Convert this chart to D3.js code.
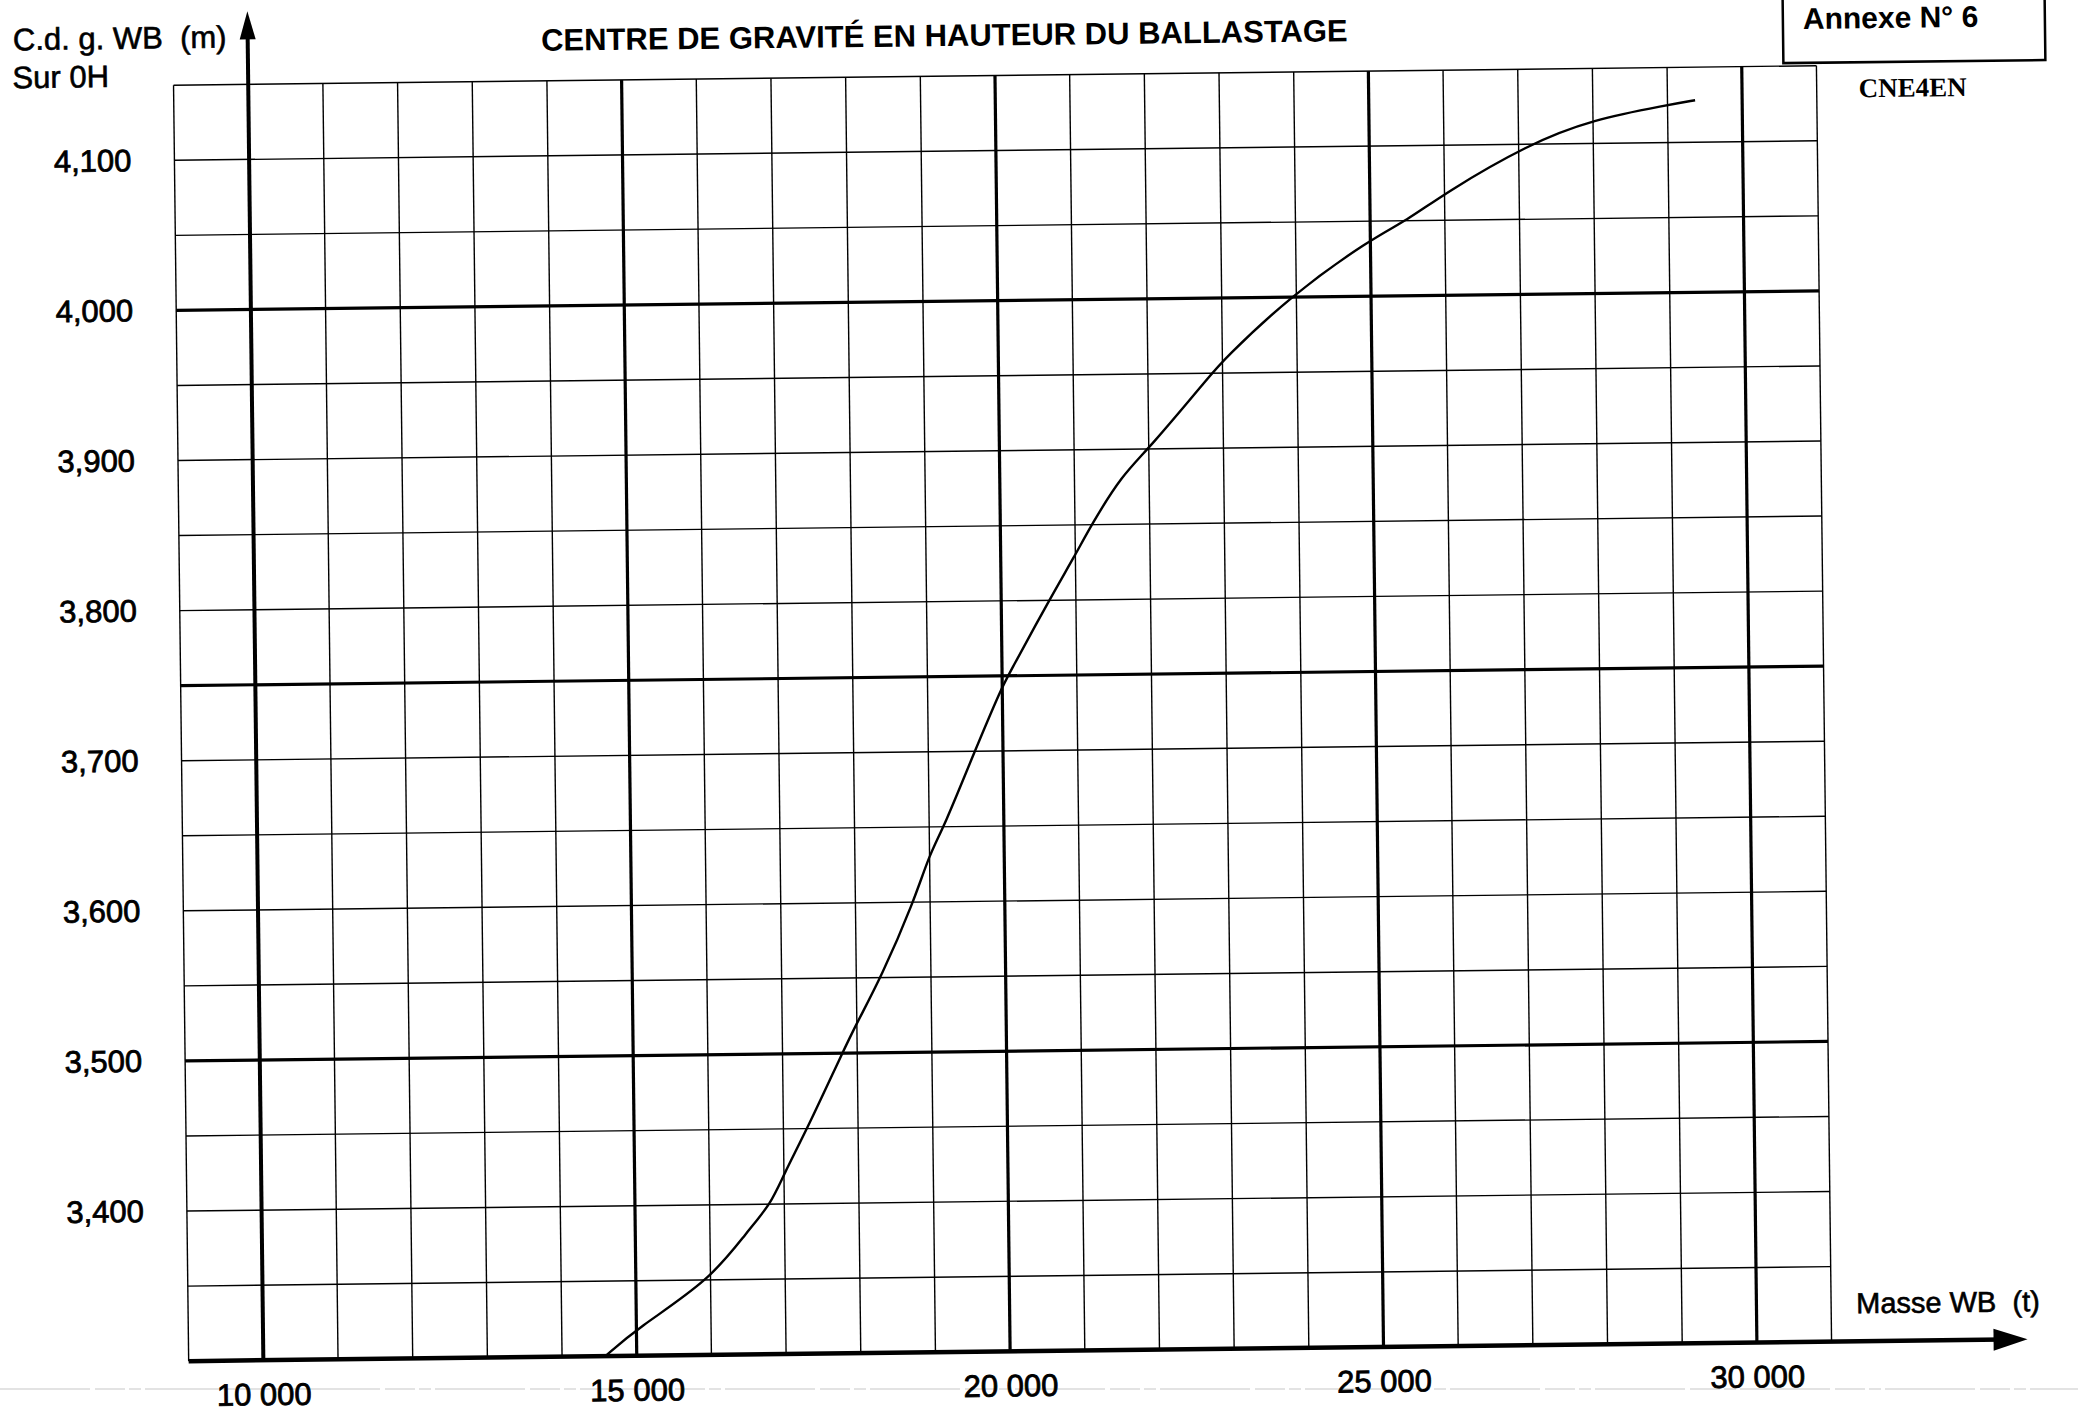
<!DOCTYPE html>
<html>
<head>
<meta charset="utf-8">
<script src="https://cdn.jsdelivr.net/npm/d3@7"></script>
<style>
  html, body { margin: 0; padding: 0; background: #fff; }
  svg { display: block; }
  text { font-family: "Liberation Sans", Arial, sans-serif; fill: #000; }
</style>
</head>
<body>
<div id="chart"></div>
<script>
// Masse WB (t) / C.d.g. WB sur 0H (m)
const masseWB = [14580, 15000, 16000, 16500, 16820, 17000, 17320, 17800, 18000, 18330, 18780, 19000, 19200, 19620, 20000, 20080, 20640, 21000, 21220, 21640, 22000, 22860, 23000, 23900, 25000, 25490, 26000, 27130, 28000, 29000, 29370];
const cdgWB = [3.300, 3.318, 3.350, 3.382, 3.400, 3.420, 3.450, 3.500, 3.520, 3.550, 3.600, 3.632, 3.650, 3.700, 3.743, 3.750, 3.800, 3.830, 3.850, 3.883, 3.900, 3.950, 3.958, 4.000, 4.038, 4.050, 4.068, 4.100, 4.116, 4.125, 4.128];

const xTicks = [10000, 15000, 20000, 25000, 30000];
const yTicks = [3.4, 3.5, 3.6, 3.7, 3.8, 3.9, 4.0, 4.1];

const W = 2078, H = 1418;

const fr = d3.formatLocale({ decimal: ",", thousands: " ", grouping: [3], currency: ["", ""] });

const svg = d3.select("#chart").append("svg")
    .attr("width", W)
    .attr("height", H);

svg.append("rect").attr("width", W).attr("height", H).attr("fill", "#fff");

// faint fold line of the scan
svg.append("line")
    .attr("x1", 0).attr("x2", W)
    .attr("y1", 1389).attr("y2", 1389)
    .attr("stroke", "#c8c8c8")
    .attr("stroke-width", 1.2)
    .attr("stroke-dasharray", "90 5 30 4 12 4");

// the sheet is scanned slightly tilted
const g = svg.append("g")
    .attr("transform", "rotate(-0.68, 1039, 709)");

const x = d3.scaleLinear().domain([9000, 31000]).range([181, 1824]);
const y = d3.scaleLinear().domain([3.30, 4.15]).range([1351, 75]);

// vertical grid, 1000 t
const vLines = d3.range(9000, 31001, 1000).filter(v => v !== 10000);
g.selectAll(".vgrid")
    .data(vLines)
    .enter()
    .append("line")
    .attr("class", "vgrid")
    .attr("x1", d => x(d)).attr("x2", d => x(d))
    .attr("y1", y(3.30)).attr("y2", y(4.15))
    .attr("stroke", "#000")
    .attr("stroke-width", d => d % 5000 === 0 ? 3.2 : 1.4);

// horizontal grid, 0.05 m
const hLines = d3.range(1, 18).map(i => +(3.30 + i * 0.05).toFixed(2));
g.selectAll(".hgrid")
    .data(hLines)
    .enter()
    .append("line")
    .attr("class", "hgrid")
    .attr("x1", x(9000)).attr("x2", x(31000))
    .attr("y1", d => y(d)).attr("y2", d => y(d))
    .attr("stroke", "#000")
    .attr("stroke-width", d => Math.abs(d * 4 - Math.round(d * 4)) < 1e-6 ? 3.2 : 1.4);

// y axis with arrow
g.append("line")
    .attr("x1", x(10000)).attr("x2", x(10000))
    .attr("y1", y(3.30)).attr("y2", 20)
    .attr("stroke", "#000").attr("stroke-width", 4);
g.append("path")
    .attr("d", `M${x(10000)},2 L${x(10000) - 8},30 L${x(10000) + 8},30 Z`)
    .attr("fill", "#000");

// x axis with arrow
g.append("line")
    .attr("x1", x(9000)).attr("x2", 1995)
    .attr("y1", y(3.30)).attr("y2", y(3.30))
    .attr("stroke", "#000").attr("stroke-width", 4.5);
g.append("path")
    .attr("d", `M2020,${y(3.30)} L1986,${y(3.30) - 11} L1986,${y(3.30) + 11} Z`)
    .attr("fill", "#000");

// tick labels
const xAxis = g.append("g")
    .attr("transform", `translate(0,${y(3.30)})`)
    .call(d3.axisBottom(x).tickValues(xTicks).tickSize(0).tickPadding(23).tickFormat(fr.format(",")));
const yAxis = g.append("g")
    .attr("transform", `translate(${x(9000)},0)`)
    .call(d3.axisLeft(y).tickValues(yTicks).tickSize(0).tickPadding(43).tickFormat(fr.format(".3f")));
[xAxis, yAxis].forEach(a => {
    a.select(".domain").remove();
    a.selectAll("text")
        .attr("font-family", "Liberation Sans, Arial, sans-serif")
        .attr("font-size", 31)
        .attr("fill", "#000")
        .attr("stroke", "#000")
        .attr("stroke-width", 0.8);
});

// curve
const line = d3.line()
    .x((d, i) => x(masseWB[i]))
    .y(d => y(d))
    .curve(d3.curveBasis);
g.append("path")
    .datum(cdgWB)
    .attr("d", line)
    .attr("fill", "none")
    .attr("stroke", "#000")
    .attr("stroke-width", 2.4);

// labels
g.append("text")
    .attr("x", 21).attr("y", 38)
    .attr("font-size", 31)
    .attr("stroke", "#000").attr("stroke-width", 0.6)
    .style("white-space", "pre")
    .text("C.d. g. WB  (m)");
g.append("text")
    .attr("x", 20).attr("y", 76)
    .attr("font-size", 31)
    .attr("stroke", "#000").attr("stroke-width", 0.6)
    .text("Sur 0H");

g.append("text")
    .attr("x", 549).attr("y", 45)
    .attr("font-size", 31)
    .attr("font-weight", "bold")
    .text("CENTRE DE GRAVITÉ EN HAUTEUR DU BALLASTAGE");

g.append("text")
    .attr("x", 1849).attr("y", 1323)
    .attr("font-size", 29)
    .attr("stroke", "#000").attr("stroke-width", 0.6)
    .style("white-space", "pre")
    .text("Masse WB  (t)");

// annex box
g.append("rect")
    .attr("x", 1791).attr("y", -30)
    .attr("width", 262).attr("height", 102)
    .attr("fill", "none")
    .attr("stroke", "#000")
    .attr("stroke-width", 2.5);
g.append("text")
    .attr("x", 1811).attr("y", 38)
    .attr("font-size", 30)
    .attr("font-weight", "bold")
    .text("Annexe N° 6");
g.append("text")
    .attr("x", 1866).attr("y", 107)
    .attr("font-size", 27)
    .attr("font-weight", "bold")
    .style("font-family", "'Liberation Serif', 'Times New Roman', serif")
    .text("CNE4EN");
</script>
</body>
</html>
